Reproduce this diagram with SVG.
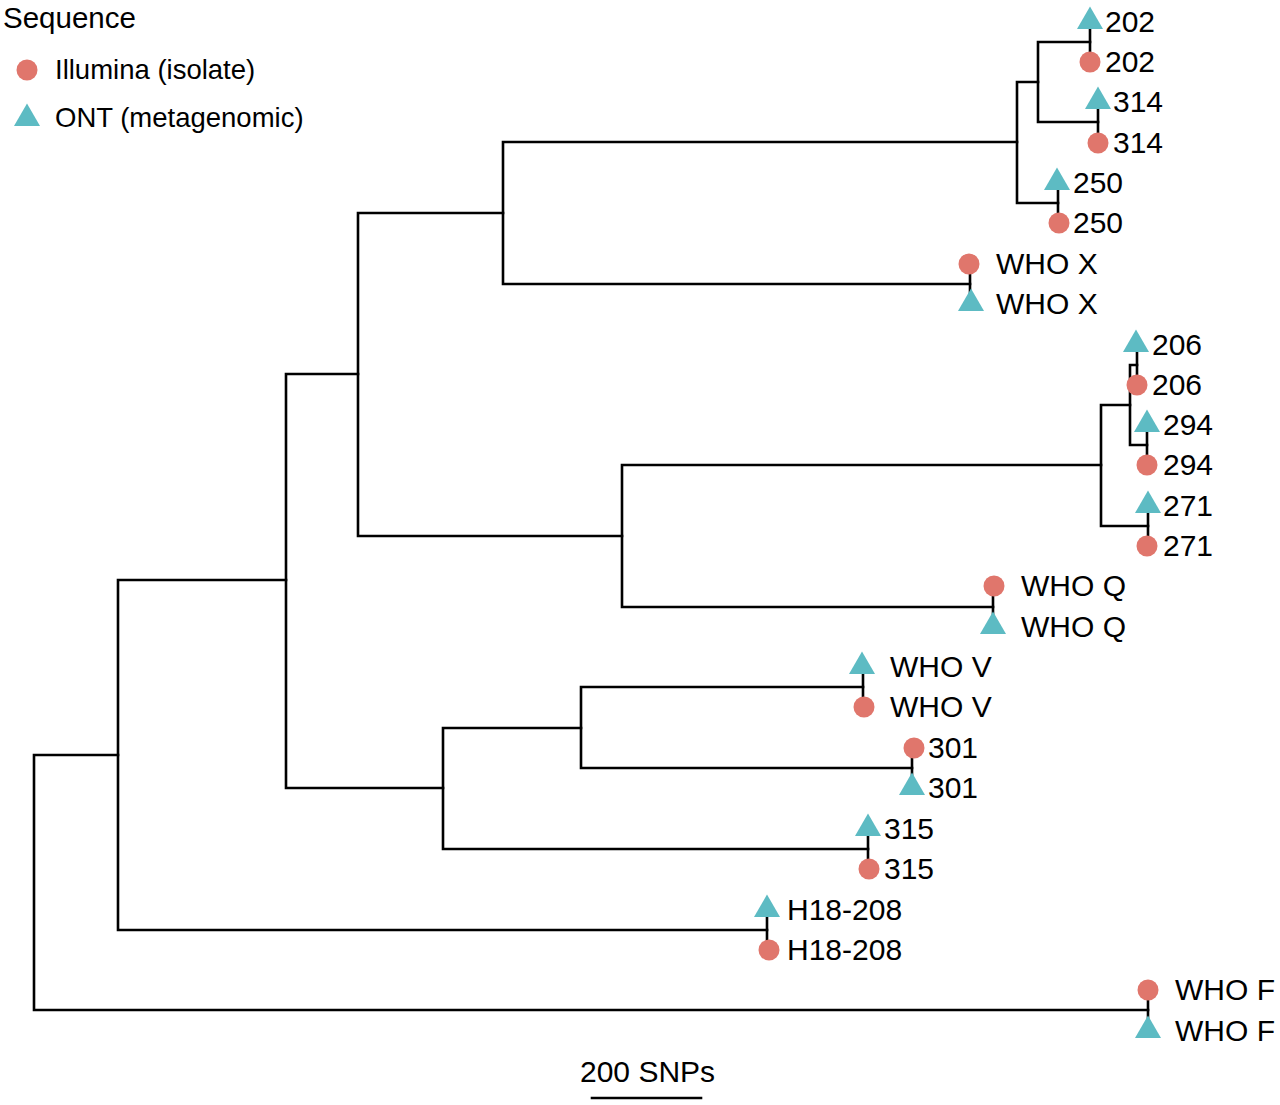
<svg xmlns="http://www.w3.org/2000/svg" xmlns:xlink="http://www.w3.org/1999/xlink" width="1280" height="1105" viewBox="0 0 1280 1105">
<style>
.edge{fill:none;stroke:#000;stroke-width:2.6;stroke-linecap:square}
.lbl{font-family:"Liberation Sans",Arial,sans-serif;font-size:30px;fill:#000}
.leg{font-family:"Liberation Sans",Arial,sans-serif;font-size:27.5px;fill:#000}
.ttl{font-family:"Liberation Sans",Arial,sans-serif;font-size:29.5px;fill:#000}
.ill{fill:#E0766C}
.ont{fill:#5DBBC3}
</style>
<defs>
<circle id="dot" cx="0" cy="0" r="10.5"/>
<path id="tri" d="M0,-15.5 L13,7 L-13,7 Z"/>
</defs>
<rect width="1280" height="1105" fill="#fff"/>
<g id="legend">
<text class="ttl" x="3" y="28">Sequence</text>
<use href="#dot" class="ill" x="27" y="70"/>
<text class="leg" x="55" y="79">Illumina (isolate)</text>
<use href="#tri" class="ont" x="27" y="119"/>
<text class="leg" x="55" y="127">ONT (metagenomic)</text>
</g>
<g id="connectors">
<path class="edge" d="M34,755V1010 M34,755H118 M34,1010H1148"/>
<path class="edge" d="M118,580V930 M118,580H286 M118,930H767"/>
<path class="edge" d="M286,374V788 M286,374H358 M286,788H443"/>
<path class="edge" d="M358,213V536 M358,213H503 M358,536H622"/>
<path class="edge" d="M503,142V284 M503,142H1017 M503,284H970"/>
<path class="edge" d="M1017,82V203 M1017,82H1038 M1017,203H1058"/>
<path class="edge" d="M1038,42V122 M1038,42H1090 M1038,122H1098"/>
<path class="edge" d="M622,465V607 M622,465H1101 M622,607H993"/>
<path class="edge" d="M1101,405V526 M1101,405H1130 M1101,526H1148"/>
<path class="edge" d="M1130,365V445 M1130,365H1137 M1130,445H1147"/>
<path class="edge" d="M443,728V849 M443,728H581 M443,849H868"/>
<path class="edge" d="M581,687V768 M581,687H863 M581,768H912"/>
<path class="edge" d="M1090,22V62 M1098,102V143 M1058,183V223 M970,264V304 M1137,345V385 M1147,425V465 M1148,506V546 M993,586V627 M863,667V707 M912,748V788 M868,829V869 M767,910V950 M1148,990V1031"/>
</g>
<g id="tip-202">
<use href="#tri" class="ont" x="1090" y="22"/><use href="#dot" class="ill" x="1090" y="62"/>
<text class="lbl" x="1105" y="32">202</text><text class="lbl" x="1105" y="72">202</text>
</g>
<g id="tip-314">
<use href="#tri" class="ont" x="1098" y="102"/><use href="#dot" class="ill" x="1098" y="143"/>
<text class="lbl" x="1113" y="112">314</text><text class="lbl" x="1113" y="153">314</text>
</g>
<g id="tip-250">
<use href="#tri" class="ont" x="1057" y="183"/><use href="#dot" class="ill" x="1059" y="223"/>
<text class="lbl" x="1073" y="193">250</text><text class="lbl" x="1073" y="233">250</text>
</g>
<g id="tip-WHOX">
<use href="#dot" class="ill" x="969" y="264"/><use href="#tri" class="ont" x="971" y="304"/>
<text class="lbl" x="996" y="274">WHO X</text><text class="lbl" x="996" y="314">WHO X</text>
</g>
<g id="tip-206">
<use href="#tri" class="ont" x="1136" y="345"/><use href="#dot" class="ill" x="1137" y="385"/>
<text class="lbl" x="1152" y="355">206</text><text class="lbl" x="1152" y="395">206</text>
</g>
<g id="tip-294">
<use href="#tri" class="ont" x="1147" y="425"/><use href="#dot" class="ill" x="1147" y="465"/>
<text class="lbl" x="1163" y="435">294</text><text class="lbl" x="1163" y="475">294</text>
</g>
<g id="tip-271">
<use href="#tri" class="ont" x="1148" y="506"/><use href="#dot" class="ill" x="1147" y="546"/>
<text class="lbl" x="1163" y="516">271</text><text class="lbl" x="1163" y="556">271</text>
</g>
<g id="tip-WHOQ">
<use href="#dot" class="ill" x="994" y="586"/><use href="#tri" class="ont" x="993" y="627"/>
<text class="lbl" x="1021" y="596">WHO Q</text><text class="lbl" x="1021" y="637">WHO Q</text>
</g>
<g id="tip-WHOV">
<use href="#tri" class="ont" x="862" y="667"/><use href="#dot" class="ill" x="864" y="707"/>
<text class="lbl" x="890" y="677">WHO V</text><text class="lbl" x="890" y="717">WHO V</text>
</g>
<g id="tip-301">
<use href="#dot" class="ill" x="914" y="748"/><use href="#tri" class="ont" x="912" y="788"/>
<text class="lbl" x="928" y="758">301</text><text class="lbl" x="928" y="798">301</text>
</g>
<g id="tip-315">
<use href="#tri" class="ont" x="868" y="829"/><use href="#dot" class="ill" x="869" y="869"/>
<text class="lbl" x="884" y="839">315</text><text class="lbl" x="884" y="879">315</text>
</g>
<g id="tip-H18-208">
<use href="#tri" class="ont" x="767" y="910"/><use href="#dot" class="ill" x="769" y="950"/>
<text class="lbl" x="787" y="920">H18-208</text><text class="lbl" x="787" y="960">H18-208</text>
</g>
<g id="tip-WHOF">
<use href="#dot" class="ill" x="1148" y="990"/><use href="#tri" class="ont" x="1148" y="1031"/>
<text class="lbl" x="1175" y="1000">WHO F</text><text class="lbl" x="1175" y="1041">WHO F</text>
</g>
<g id="scale">
<text class="lbl" x="580" y="1082">200 SNPs</text>
<path class="edge" d="M592,1098H701"/>
</g>
</svg>
